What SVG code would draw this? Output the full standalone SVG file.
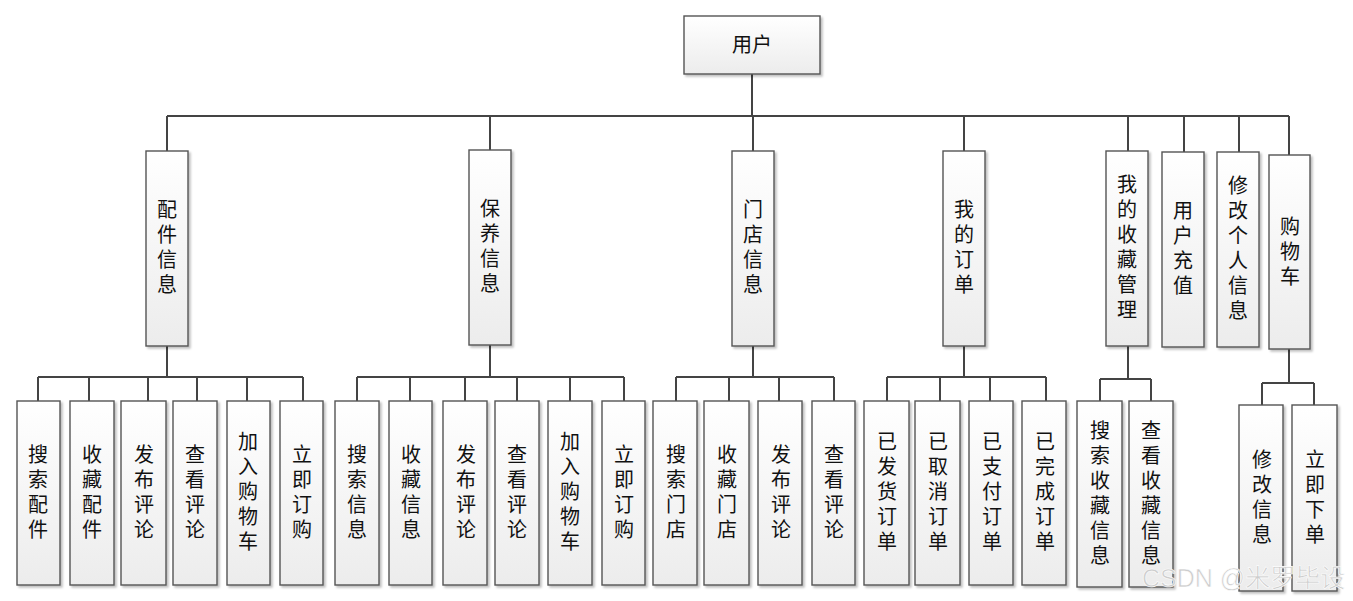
<svg xmlns="http://www.w3.org/2000/svg" width="1353" height="601" viewBox="0 0 1353 601">
<defs>
<linearGradient id="g" x1="0" y1="0" x2="0" y2="1">
<stop offset="0" stop-color="#ffffff"/>
<stop offset="1" stop-color="#ececec"/>
</linearGradient>
<filter id="sh" x="-20%" y="-10%" width="150%" height="130%">
<feDropShadow dx="2" dy="2" stdDeviation="1.2" flood-color="#000" flood-opacity="0.25"/>
</filter>
</defs>
<style>
.b{fill:url(#g);stroke:#555;stroke-width:1.4;filter:url(#sh)}
.t{font-family:"Noto Sans CJK SC","Noto Sans",sans-serif;font-size:20px;fill:#111;text-anchor:middle;font-weight:400}
.c{fill:none;stroke:#444;stroke-width:2}
.w{font-family:"Liberation Sans","Noto Sans CJK SC",sans-serif;font-size:25px;fill:#cdcdcd;stroke:#fff;stroke-width:0.6}
</style>
<rect width="1353" height="601" fill="#fff"/>
<g id="connectors" class="c">
<path d="M752 74V116M167 116H1289M167 116V151M490 116V150M753 116V151M964 116V151M1128 116V151M1184 116V152M1239 116V152M1289 116V155"/>
<path d="M167 346V377M38 377H303M38 377V401M89 377V401M148 377V401M197 377V401M247 377V401M303 377V401"/>
<path d="M490 345V377M357 377H624M357 377V401M410 377V401M465 377V401M517 377V401M570 377V401M624 377V401"/>
<path d="M753 346V377M676 377H834M676 377V401M729 377V401M779 377V401M834 377V401"/>
<path d="M964 346V377M887 377H1046M887 377V401M940 377V401M990 377V401M1046 377V401"/>
<path d="M1128 345V379M1100 379H1151M1100 379V401M1151 379V401"/>
<path d="M1289 349V383M1262 383H1314M1262 383V405M1314 383V405"/>
</g>
<g id="n-root"><rect class="b" x="684" y="16" width="136" height="58"/><text class="t" x="752" y="52">用户</text></g>
<g id="n-peijian"><rect class="b" x="146" y="151" width="42" height="195"/><text class="t" x="167" y="217"><tspan x="167">配</tspan><tspan x="167" dy="25">件</tspan><tspan x="167" dy="25">信</tspan><tspan x="167" dy="25">息</tspan></text></g>
<g id="n-baoyang"><rect class="b" x="469" y="150" width="42" height="195"/><text class="t" x="490" y="216"><tspan x="490">保</tspan><tspan x="490" dy="25">养</tspan><tspan x="490" dy="25">信</tspan><tspan x="490" dy="25">息</tspan></text></g>
<g id="n-mendian"><rect class="b" x="732" y="151" width="42" height="195"/><text class="t" x="753" y="217"><tspan x="753">门</tspan><tspan x="753" dy="25">店</tspan><tspan x="753" dy="25">信</tspan><tspan x="753" dy="25">息</tspan></text></g>
<g id="n-dingdan"><rect class="b" x="943" y="151" width="42" height="195"/><text class="t" x="964" y="217"><tspan x="964">我</tspan><tspan x="964" dy="25">的</tspan><tspan x="964" dy="25">订</tspan><tspan x="964" dy="25">单</tspan></text></g>
<g id="n-shoucang"><rect class="b" x="1106" y="151" width="42" height="195"/><text class="t" x="1127" y="192"><tspan x="1127">我</tspan><tspan x="1127" dy="25">的</tspan><tspan x="1127" dy="25">收</tspan><tspan x="1127" dy="25">藏</tspan><tspan x="1127" dy="25">管</tspan><tspan x="1127" dy="25">理</tspan></text></g>
<g id="n-chongzhi"><rect class="b" x="1162" y="152" width="42" height="195"/><text class="t" x="1183" y="218"><tspan x="1183">用</tspan><tspan x="1183" dy="25">户</tspan><tspan x="1183" dy="25">充</tspan><tspan x="1183" dy="25">值</tspan></text></g>
<g id="n-xiugai"><rect class="b" x="1217" y="152" width="42" height="195"/><text class="t" x="1238" y="193"><tspan x="1238">修</tspan><tspan x="1238" dy="25">改</tspan><tspan x="1238" dy="25">个</tspan><tspan x="1238" dy="25">人</tspan><tspan x="1238" dy="25">信</tspan><tspan x="1238" dy="25">息</tspan></text></g>
<g id="n-gouwuche"><rect class="b" x="1269" y="155" width="41" height="194"/><text class="t" x="1290" y="234"><tspan x="1290">购</tspan><tspan x="1290" dy="25">物</tspan><tspan x="1290" dy="25">车</tspan></text></g>

<g id="n-a1"><rect class="b" x="17" y="401" width="43" height="184"/><text class="t" x="38" y="462"><tspan x="38">搜</tspan><tspan x="38" dy="25">索</tspan><tspan x="38" dy="25">配</tspan><tspan x="38" dy="25">件</tspan></text></g>
<g id="n-a2"><rect class="b" x="70" y="401" width="44" height="184"/><text class="t" x="92" y="462"><tspan x="92">收</tspan><tspan x="92" dy="25">藏</tspan><tspan x="92" dy="25">配</tspan><tspan x="92" dy="25">件</tspan></text></g>
<g id="n-a3"><rect class="b" x="121" y="401" width="45" height="184"/><text class="t" x="144" y="462"><tspan x="144">发</tspan><tspan x="144" dy="25">布</tspan><tspan x="144" dy="25">评</tspan><tspan x="144" dy="25">论</tspan></text></g>
<g id="n-a4"><rect class="b" x="173" y="401" width="44" height="184"/><text class="t" x="195" y="462"><tspan x="195">查</tspan><tspan x="195" dy="25">看</tspan><tspan x="195" dy="25">评</tspan><tspan x="195" dy="25">论</tspan></text></g>
<g id="n-a5"><rect class="b" x="227" y="401" width="43" height="184"/><text class="t" x="248" y="449"><tspan x="248">加</tspan><tspan x="248" dy="25">入</tspan><tspan x="248" dy="25">购</tspan><tspan x="248" dy="25">物</tspan><tspan x="248" dy="25">车</tspan></text></g>
<g id="n-a6"><rect class="b" x="280" y="401" width="43" height="184"/><text class="t" x="302" y="462"><tspan x="302">立</tspan><tspan x="302" dy="25">即</tspan><tspan x="302" dy="25">订</tspan><tspan x="302" dy="25">购</tspan></text></g>

<g id="n-b1"><rect class="b" x="335" y="401" width="44" height="184"/><text class="t" x="357" y="462"><tspan x="357">搜</tspan><tspan x="357" dy="25">索</tspan><tspan x="357" dy="25">信</tspan><tspan x="357" dy="25">息</tspan></text></g>
<g id="n-b2"><rect class="b" x="389" y="401" width="43" height="184"/><text class="t" x="411" y="462"><tspan x="411">收</tspan><tspan x="411" dy="25">藏</tspan><tspan x="411" dy="25">信</tspan><tspan x="411" dy="25">息</tspan></text></g>
<g id="n-b3"><rect class="b" x="443" y="401" width="44" height="184"/><text class="t" x="466" y="462"><tspan x="466">发</tspan><tspan x="466" dy="25">布</tspan><tspan x="466" dy="25">评</tspan><tspan x="466" dy="25">论</tspan></text></g>
<g id="n-b4"><rect class="b" x="495" y="401" width="44" height="184"/><text class="t" x="517" y="462"><tspan x="517">查</tspan><tspan x="517" dy="25">看</tspan><tspan x="517" dy="25">评</tspan><tspan x="517" dy="25">论</tspan></text></g>
<g id="n-b5"><rect class="b" x="548" y="401" width="44" height="184"/><text class="t" x="570" y="449"><tspan x="570">加</tspan><tspan x="570" dy="25">入</tspan><tspan x="570" dy="25">购</tspan><tspan x="570" dy="25">物</tspan><tspan x="570" dy="25">车</tspan></text></g>
<g id="n-b6"><rect class="b" x="602" y="401" width="43" height="184"/><text class="t" x="624" y="462"><tspan x="624">立</tspan><tspan x="624" dy="25">即</tspan><tspan x="624" dy="25">订</tspan><tspan x="624" dy="25">购</tspan></text></g>

<g id="n-c1"><rect class="b" x="653" y="401" width="44" height="184"/><text class="t" x="676" y="462"><tspan x="676">搜</tspan><tspan x="676" dy="25">索</tspan><tspan x="676" dy="25">门</tspan><tspan x="676" dy="25">店</tspan></text></g>
<g id="n-c2"><rect class="b" x="704" y="401" width="45" height="184"/><text class="t" x="727" y="462"><tspan x="727">收</tspan><tspan x="727" dy="25">藏</tspan><tspan x="727" dy="25">门</tspan><tspan x="727" dy="25">店</tspan></text></g>
<g id="n-c3"><rect class="b" x="758" y="401" width="44" height="184"/><text class="t" x="781" y="462"><tspan x="781">发</tspan><tspan x="781" dy="25">布</tspan><tspan x="781" dy="25">评</tspan><tspan x="781" dy="25">论</tspan></text></g>
<g id="n-c4"><rect class="b" x="812" y="401" width="43" height="184"/><text class="t" x="834" y="462"><tspan x="834">查</tspan><tspan x="834" dy="25">看</tspan><tspan x="834" dy="25">评</tspan><tspan x="834" dy="25">论</tspan></text></g>

<g id="n-d1"><rect class="b" x="864" y="401" width="45" height="184"/><text class="t" x="887" y="449"><tspan x="887">已</tspan><tspan x="887" dy="25">发</tspan><tspan x="887" dy="25">货</tspan><tspan x="887" dy="25">订</tspan><tspan x="887" dy="25">单</tspan></text></g>
<g id="n-d2"><rect class="b" x="915" y="401" width="45" height="184"/><text class="t" x="938" y="449"><tspan x="938">已</tspan><tspan x="938" dy="25">取</tspan><tspan x="938" dy="25">消</tspan><tspan x="938" dy="25">订</tspan><tspan x="938" dy="25">单</tspan></text></g>
<g id="n-d3"><rect class="b" x="969" y="401" width="44" height="184"/><text class="t" x="992" y="449"><tspan x="992">已</tspan><tspan x="992" dy="25">支</tspan><tspan x="992" dy="25">付</tspan><tspan x="992" dy="25">订</tspan><tspan x="992" dy="25">单</tspan></text></g>
<g id="n-d4"><rect class="b" x="1022" y="401" width="44" height="184"/><text class="t" x="1045" y="449"><tspan x="1045">已</tspan><tspan x="1045" dy="25">完</tspan><tspan x="1045" dy="25">成</tspan><tspan x="1045" dy="25">订</tspan><tspan x="1045" dy="25">单</tspan></text></g>

<g id="n-e1"><rect class="b" x="1077" y="401" width="45" height="186"/><text class="t" x="1100" y="438"><tspan x="1100">搜</tspan><tspan x="1100" dy="25">索</tspan><tspan x="1100" dy="25">收</tspan><tspan x="1100" dy="25">藏</tspan><tspan x="1100" dy="25">信</tspan><tspan x="1100" dy="25">息</tspan></text></g>
<g id="n-e2"><rect class="b" x="1129" y="401" width="44" height="186"/><text class="t" x="1151" y="438"><tspan x="1151">查</tspan><tspan x="1151" dy="25">看</tspan><tspan x="1151" dy="25">收</tspan><tspan x="1151" dy="25">藏</tspan><tspan x="1151" dy="25">信</tspan><tspan x="1151" dy="25">息</tspan></text></g>

<g id="n-f1"><rect class="b" x="1239" y="405" width="44" height="186"/><text class="t" x="1262" y="467"><tspan x="1262">修</tspan><tspan x="1262" dy="25">改</tspan><tspan x="1262" dy="25">信</tspan><tspan x="1262" dy="25">息</tspan></text></g>
<g id="n-f2"><rect class="b" x="1292" y="405" width="45" height="186"/><text class="t" x="1315" y="467"><tspan x="1315">立</tspan><tspan x="1315" dy="25">即</tspan><tspan x="1315" dy="25">下</tspan><tspan x="1315" dy="25">单</tspan></text></g>

<text class="w" x="1142" y="587">CSDN @米罗毕设</text>
</svg>
